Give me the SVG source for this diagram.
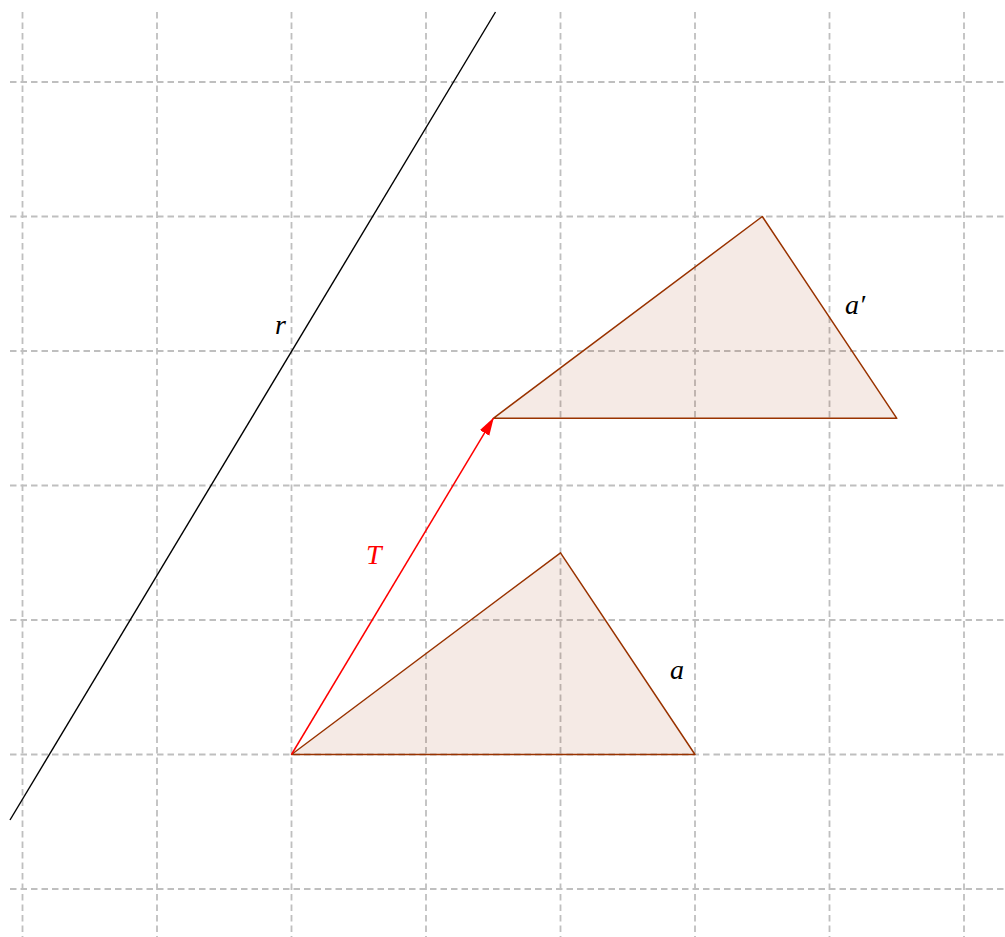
<svg xmlns="http://www.w3.org/2000/svg" width="1005" height="937" viewBox="0 0 1005 937">
<style>
.grid line{stroke:#bfbfbf;stroke-width:1.8;stroke-dasharray:6.5 4}
.tri{fill:#993300;fill-opacity:0.1;stroke:#993300;stroke-width:1.5;stroke-linejoin:round}
.lbl{font-family:"Liberation Serif",serif;font-style:italic;font-size:28px}
</style>
<defs>
<marker id="ahr" viewBox="0 0 18 12" refX="17" refY="6" markerWidth="18" markerHeight="12" markerUnits="userSpaceOnUse" orient="auto">
<path d="M0,0.5 L18,6 L0,11.5 Z" fill="#ff0000"/>
</marker>
</defs>
<rect width="1005" height="937" fill="#ffffff"/>
<g class="grid" id="grid">
<line x1="22.5" y1="12" x2="22.5" y2="937"/>
<line x1="157" y1="12" x2="157" y2="937"/>
<line x1="291.5" y1="12" x2="291.5" y2="937"/>
<line x1="426" y1="12" x2="426" y2="937"/>
<line x1="560.5" y1="12" x2="560.5" y2="937"/>
<line x1="695" y1="12" x2="695" y2="937"/>
<line x1="829.5" y1="12" x2="829.5" y2="937"/>
<line x1="964" y1="12" x2="964" y2="937"/>
<line x1="10" y1="82" x2="1005" y2="82"/>
<line x1="10" y1="216.5" x2="1005" y2="216.5"/>
<line x1="10" y1="351" x2="1005" y2="351"/>
<line x1="10" y1="485.5" x2="1005" y2="485.5"/>
<line x1="10" y1="620" x2="1005" y2="620"/>
<line x1="10" y1="754.5" x2="1005" y2="754.5"/>
<line x1="10" y1="889" x2="1005" y2="889"/>
</g>
<g id="line-r">
<line x1="10" y1="820" x2="495.5" y2="12" stroke="#000000" stroke-width="1.4"/>
<text class="lbl" x="275" y="334">r</text>
</g>
<g id="triangle-a">
<polygon class="tri" points="291.5,754.5 560.5,552.8 695,754.5"/>
<text class="lbl" x="670" y="679">a</text>
</g>
<g id="triangle-a-prime">
<polygon class="tri" points="493.3,418.3 762.3,216.5 896.8,418.3"/>
<text class="lbl" x="845" y="314">a′</text>
</g>
<g id="connectors">
<line x1="291.5" y1="754.5" x2="493.3" y2="418.3" stroke="#ff0000" stroke-width="1.5" marker-end="url(#ahr)"/>
<text class="lbl" x="366" y="564" fill="#ff0000">T</text>
</g>
</svg>
